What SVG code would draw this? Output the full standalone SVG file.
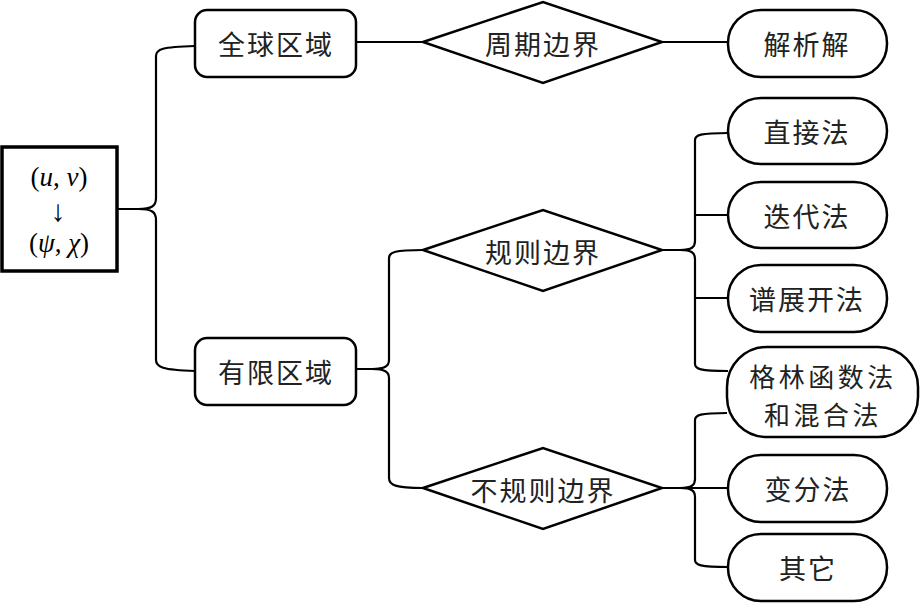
<svg xmlns="http://www.w3.org/2000/svg" width="920" height="603" viewBox="0 0 920 603">
<style>
.box{fill:#fff;stroke:#000;stroke-width:2.5}
.con{fill:none;stroke:#000;stroke-width:2.2}
.t{font-family:"Noto Sans CJK SC","Noto Sans",sans-serif;font-size:27px;fill:#222;text-anchor:middle;dominant-baseline:central;letter-spacing:2px}
.t2{font-size:26px;letter-spacing:3.5px}
.m{font-family:"Liberation Serif","Times New Roman",serif;font-size:27px;fill:#000;text-anchor:middle}
.arr{font-family:"Liberation Serif","Times New Roman",serif;font-size:30px;fill:#000;text-anchor:middle}
</style>
<rect width="920" height="603" fill="#fff"/>
<g id="connectors">
<path class="con" d="M117,209 L138,209 C152,209 156,206 156,198 L156,56 C156,49 162,47 195,46"/>
<path class="con" d="M138,209 C152,209 156,212 156,220 L156,360 C156,367 162,370 195,371"/>
<path class="con" d="M356,42 L423,42 M662,42 L728,42"/>
<path class="con" d="M356,369 L372,369 C385,369 389,366 389,360 L389,258 C389,252 395,250 423,250"/>
<path class="con" d="M372,369 C385,369 389,372 389,378 L389,478 C389,485 395,488 423,488"/>
<path class="con" d="M662,250 L680,250 C692,250 695,247 695,241 L695,140 C695,135 700,133 728,133"/>
<path class="con" d="M680,250 C692,250 695,253 695,259 L695,364 C695,369 700,371 728,371"/>
<path class="con" d="M695,215 L728,215 M695,298 L728,298"/>
<path class="con" d="M662,488 L680,488 C692,488 695,485 695,479 L695,420 C695,415 700,413 727,413"/>
<path class="con" d="M680,488 L728,488"/>
<path class="con" d="M680,488 C692,488 695,491 695,497 L695,560 C695,565 700,567 728,567"/>
</g>
<g id="root">
<rect class="box" x="2" y="147" width="115" height="124" style="stroke-width:3.5px"/>
<text class="m" x="59" y="186">(<tspan font-style="italic">u</tspan>, <tspan font-style="italic">v</tspan>)</text>
<text class="arr" x="58" y="221">↓</text>
<text class="m" x="59" y="252">(<tspan font-style="italic">ψ</tspan>, <tspan font-style="italic">χ</tspan>)</text>
</g>
<g id="global">
<rect class="box" x="195" y="10" width="161" height="67" rx="12"/>
<text class="t" x="276" y="43">全球区域</text>
</g>
<g id="finite">
<rect class="box" x="195" y="338" width="161" height="67" rx="12"/>
<text class="t" x="276" y="371">有限区域</text>
</g>
<g id="periodic">
<polygon class="box" points="423,42 543,2 662,42 543,83"/>
<text class="t" x="543" y="43">周期边界</text>
</g>
<g id="regular">
<polygon class="box" points="423,250 543,210 662,250 543,291"/>
<text class="t" x="543" y="251">规则边界</text>
</g>
<g id="irregular">
<polygon class="box" points="423,488 543,448 662,488 543,529"/>
<text class="t" x="543" y="489">不规则边界</text>
</g>
<g id="analytic">
<rect class="box" x="728" y="10" width="159" height="67" rx="33"/>
<text class="t" x="807" y="43">解析解</text>
</g>
<g id="direct">
<rect class="box" x="728" y="98" width="159" height="66" rx="33"/>
<text class="t" x="807" y="131">直接法</text>
</g>
<g id="iterative">
<rect class="box" x="728" y="182" width="159" height="66" rx="33"/>
<text class="t" x="807" y="215">迭代法</text>
</g>
<g id="spectral">
<rect class="box" x="728" y="265" width="159" height="67" rx="33"/>
<text class="t" x="807" y="298">谱展开法</text>
</g>
<g id="green">
<rect class="box" x="727" y="347" width="191" height="90" rx="40"/>
<text class="t t2" x="823" y="375.5">格林函数法</text>
<text class="t t2" x="823" y="413.5">和混合法</text>
</g>
<g id="variational">
<rect class="box" x="728" y="455" width="159" height="67" rx="33"/>
<text class="t" x="808" y="488">变分法</text>
</g>
<g id="other">
<rect class="box" x="728" y="534" width="159" height="67" rx="33"/>
<text class="t" x="808" y="567">其它</text>
</g>
</svg>
